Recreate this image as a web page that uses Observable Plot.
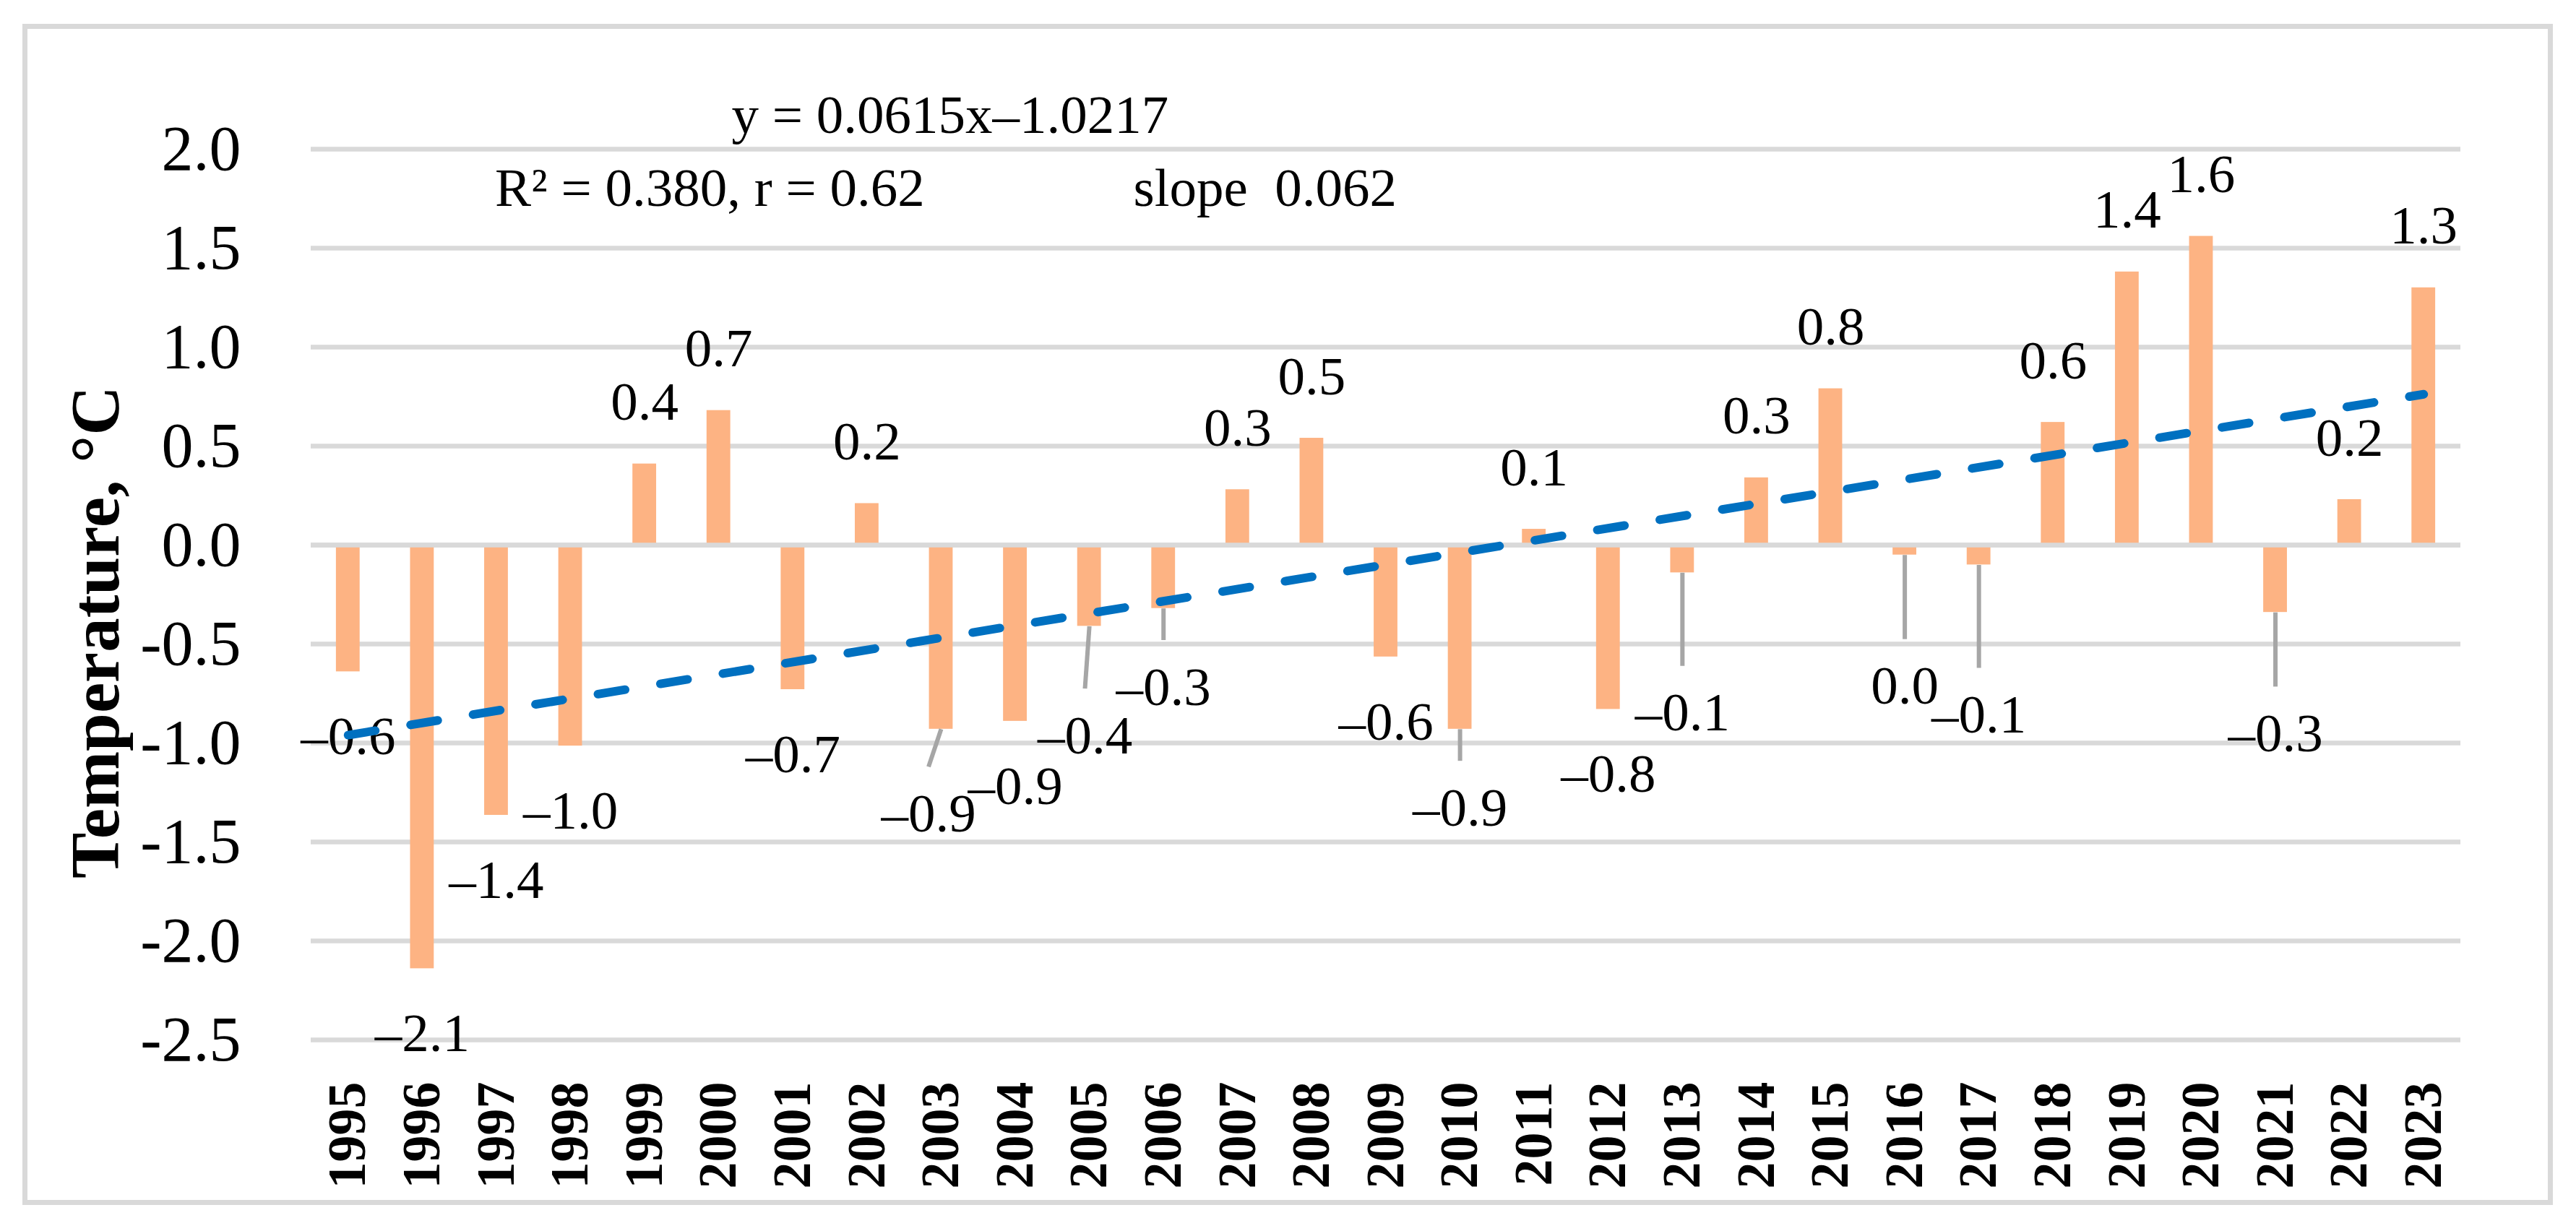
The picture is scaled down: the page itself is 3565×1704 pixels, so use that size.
<!DOCTYPE html>
<html>
<head>
<meta charset="utf-8">
<script src="https://cdn.jsdelivr.net/npm/d3@7"></script>
<script src="https://cdn.jsdelivr.net/npm/@observablehq/plot@0.6"></script>
<style>
html, body { margin: 0; padding: 0; background: #fff; }
#wrap { position: relative; width: 3565px; height: 1704px; overflow: hidden; background: #fff; }
#border { position: absolute; left: 31px; top: 33px; width: 3502px; height: 1635px; box-sizing: border-box; border: 7px solid #d9d9d9; }
#chart { position: absolute; left: 0; top: 0; }
</style>
</head>
<body>
<div id="wrap"><div id="border"></div><div id="chart"></div></div>
<script>
// ---- data ----
const years = [1995,1996,1997,1998,1999,2000,2001,2002,2003,2004,2005,2006,2007,2008,2009,
               2010,2011,2012,2013,2014,2015,2016,2017,2018,2019,2020,2021,2022,2023];
const values = [-0.64,-2.14,-1.365,-1.015,0.41,0.68,-0.73,0.21,-0.93,-0.89,-0.41,-0.32,0.28,0.54,-0.565,
                -0.93,0.08,-0.83,-0.14,0.34,0.79,-0.05,-0.10,0.62,1.38,1.56,-0.34,0.23,1.30];
const valueLabels = ["–0.6","–2.1","–1.4","–1.0","0.4","0.7","–0.7","0.2","–0.9","–0.9","–0.4","–0.3","0.3","0.5","–0.6",
                     "–0.9","0.1","–0.8","–0.1","0.3","0.8","0.0","–0.1","0.6","1.4","1.6","–0.3","0.2","1.3"];
const yTicks = [-2.5,-2.0,-1.5,-1.0,-0.5,0,0.5,1.0,1.5,2.0];
const yTitle = "Temperature, °C";
const trendSlope = 0.0615;
const trendIntercept = -1.0217;
const eqText = "y = 0.0615x–1.0217";
const statsText = "R² = 0.380, r = 0.62";
const slopeText = "slope\u00a0\u00a00.062";

// labels moved away from their bar with a leader line (manual placement in the source chart)
const leaderYears   = [2003, 2005, 2006, 2010, 2013, 2016, 2017, 2021];
const leaderLabelAt = [-1.36, -0.965, -0.72, -1.33, -0.85, -0.715, -0.86, -0.955];
const leaderShift   = [-0.17, -0.06, 0, 0, 0, 0, 0, 0];

// ---- derived tables ----
const rows = years.map((year, i) => {
  const li = leaderYears.indexOf(year);
  const v = values[i];
  return {
    year, value: v, label: valueLabels[i],
    labelX: year + (li >= 0 ? leaderShift[li] : 0),
    labelY: li >= 0 ? leaderLabelAt[li] : (v >= 0 ? v + 0.31 : v - 0.33)
  };
});
const leaderRows = leaderYears.map((year, k) => ({
  year, value: values[years.indexOf(year)],
  endX: year + leaderShift[k], endY: leaderLabelAt[k] + 0.24
}));
const trendRows = [years[0], years[years.length - 1]].map(yr => ({
  year: yr, t: trendSlope * (yr - years[0] + 1) + trendIntercept
}));

const FONT = "'Liberation Serif', 'Times New Roman', serif";

const chart = Plot.plot({
  width: 3565,
  height: 1704,
  marginLeft: 430,
  marginRight: 160,
  marginTop: 206,
  marginBottom: 265,
  x: {type: "linear", domain: [years[0] - 0.5, years[years.length - 1] + 0.5]},
  y: {domain: [-2.5, 2.0]},
  style: {fontFamily: FONT, background: "transparent", color: "#000", overflow: "visible"},
  marks: [
    Plot.ruleY(yTicks, {stroke: "#d9d9d9", strokeWidth: 6.5}),
    Plot.rect(rows, {x1: d => d.year - 0.16, x2: d => d.year + 0.16, y1: 0, y2: "value", fill: "#FDB383"}),
    Plot.ruleY([0], {stroke: "#d9d9d9", strokeWidth: 6.5}),
    Plot.link(leaderRows, {x1: "year", y1: "value", x2: "endX", y2: "endY", stroke: "#a6a6a6", strokeWidth: 6}),
    Plot.text(rows, {x: "labelX", y: "labelY", text: "label", fontSize: 75, fill: "#000"}),
    Plot.line(trendRows, {x: "year", y: "t", stroke: "#0070C0", strokeWidth: 12,
                          strokeDasharray: "38,49.6", strokeLinecap: "round"}),
    Plot.text([eqText], {x: 2003.12, y: 2.17, text: d => d, fontSize: 75, fill: "#000"}),
    Plot.text([statsText], {x: 1999.88, y: 1.80, text: d => d, fontSize: 75, fill: "#000"}),
    Plot.text([slopeText], {x: 2007.37, y: 1.80, text: d => d, fontSize: 75, fill: "#000"}),
    Plot.axisY({ticks: yTicks, tickSize: 0, tickPadding: 97, tickFormat: d => d.toFixed(1),
                fontSize: 88, label: null}),
    Plot.axisX({ticks: years, tickSize: 0, tickPadding: 58, tickRotate: -90, tickFormat: d => String(d),
                fontSize: 74, fontWeight: "bold", label: null}),
    Plot.text([yTitle], {frameAnchor: "left", textAnchor: "middle", rotate: -90, dx: -297, dy: 52,
                         text: d => d, fontSize: 95, fontWeight: "bold", fill: "#000"})
  ]
});
document.getElementById("chart").appendChild(chart);
</script>
</body>
</html>
